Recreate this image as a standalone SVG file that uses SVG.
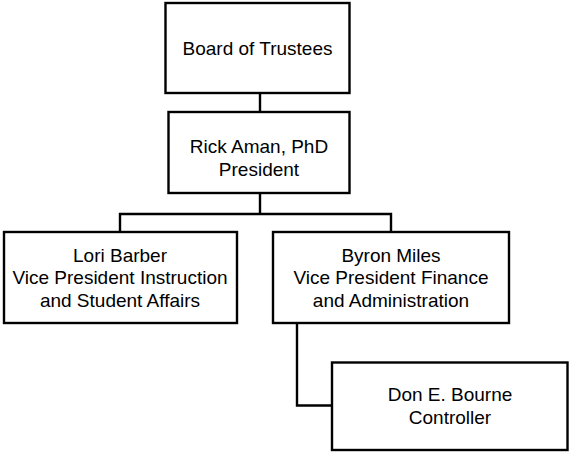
<svg xmlns="http://www.w3.org/2000/svg" width="569" height="452" viewBox="0 0 569 452">
  <style>
    .box { fill: #ffffff; stroke: #000000; stroke-width: 2.4; }
    .conn { fill: none; stroke: #000000; stroke-width: 2.4; }
    .lbl { font-family: "Liberation Sans", Arial, sans-serif; font-size: 19px; fill: #000000; text-anchor: middle; }
  </style>
  <rect x="0" y="0" width="569" height="452" fill="#ffffff"/>
  <g id="connectors">
    <path class="conn" d="M260,93 V112"/>
    <path class="conn" d="M260,193 V214"/>
    <path class="conn" d="M120,232 V214 H391 V232"/>
    <path class="conn" d="M297,323 V405.5 H332"/>
  </g>
  <g id="board">
    <rect class="box" x="165.5" y="3" width="184" height="90"/>
    <text class="lbl" x="257.5" y="55">Board of Trustees</text>
  </g>
  <g id="president">
    <rect class="box" x="168.5" y="112" width="181" height="81"/>
    <text class="lbl" x="259" y="153">Rick Aman, PhD</text>
    <text class="lbl" x="259" y="175.5">President</text>
  </g>
  <g id="vp-instruction">
    <rect class="box" x="4" y="232" width="233" height="91"/>
    <text class="lbl" x="120" y="261.5">Lori Barber</text>
    <text class="lbl" x="120" y="284">Vice President Instruction</text>
    <text class="lbl" x="120" y="306.5">and Student Affairs</text>
  </g>
  <g id="vp-finance">
    <rect class="box" x="273" y="232" width="236" height="91"/>
    <text class="lbl" x="391" y="261.5">Byron Miles</text>
    <text class="lbl" x="391" y="284">Vice President Finance</text>
    <text class="lbl" x="391" y="306.5">and Administration</text>
  </g>
  <g id="controller">
    <rect class="box" x="332" y="362.5" width="235.5" height="87.5"/>
    <text class="lbl" x="450" y="401">Don E. Bourne</text>
    <text class="lbl" x="450" y="424">Controller</text>
  </g>
</svg>
